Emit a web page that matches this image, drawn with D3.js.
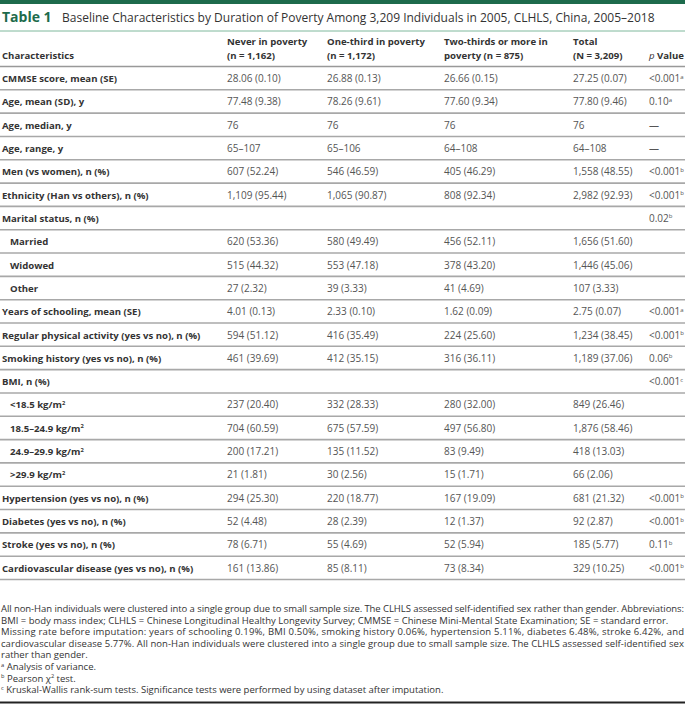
<!DOCTYPE html>
<html>
<head>
<meta charset="utf-8">
<script src="https://cdn.jsdelivr.net/npm/d3@7"></script>
<style>
    body { margin: 0; background: #fff; }
    svg text { font-family: "Open Sans", sans-serif; }
</style>
</head>
<body>
<svg id="tbl" width="685" height="704"></svg>
<script>
    var title_bold = "Table 1";
    var title_rest = "Baseline Characteristics by Duration of Poverty Among 3,209 Individuals in 2005, CLHLS, China, 2005\u20132018";

    var head_top = ["", "Never in poverty", "One-third in poverty", "Two-thirds or more in", "Total", ""];
    var head_bot = ["Characteristics", "(n = 1,162)", "(n = 1,172)", "poverty (n = 875)", "(N = 3,209)", "p Value"];

    var labels = [
        "CMMSE score, mean (SE)", "Age, mean (SD), y", "Age, median, y", "Age, range, y",
        "Men (vs women), n (%)", "Ethnicity (Han vs others), n (%)", "Marital status, n (%)",
        "Married", "Widowed", "Other",
        "Years of schooling, mean (SE)", "Regular physical activity (yes vs no), n (%)",
        "Smoking history (yes vs no), n (%)", "BMI, n (%)",
        "<18.5 kg/m^2", "18.5\u201324.9 kg/m^2", "24.9\u201329.9 kg/m^2", ">29.9 kg/m^2",
        "Hypertension (yes vs no), n (%)", "Diabetes (yes vs no), n (%)",
        "Stroke (yes vs no), n (%)", "Cardiovascular disease (yes vs no), n (%)"
    ];
    var indented = [0, 0, 0, 0, 0, 0, 0, 1, 1, 1, 0, 0, 0, 0, 1, 1, 1, 1, 0, 0, 0, 0];

    var never = ["28.06 (0.10)", "77.48 (9.38)", "76", "65\u2013107", "607 (52.24)", "1,109 (95.44)", "",
        "620 (53.36)", "515 (44.32)", "27 (2.32)", "4.01 (0.13)", "594 (51.12)", "461 (39.69)", "",
        "237 (20.40)", "704 (60.59)", "200 (17.21)", "21 (1.81)", "294 (25.30)", "52 (4.48)", "78 (6.71)", "161 (13.86)"];
    var one_third = ["26.88 (0.13)", "78.26 (9.61)", "76", "65\u2013106", "546 (46.59)", "1,065 (90.87)", "",
        "580 (49.49)", "553 (47.18)", "39 (3.33)", "2.33 (0.10)", "416 (35.49)", "412 (35.15)", "",
        "332 (28.33)", "675 (57.59)", "135 (11.52)", "30 (2.56)", "220 (18.77)", "28 (2.39)", "55 (4.69)", "85 (8.11)"];
    var two_thirds = ["26.66 (0.15)", "77.60 (9.34)", "76", "64\u2013108", "405 (46.29)", "808 (92.34)", "",
        "456 (52.11)", "378 (43.20)", "41 (4.69)", "1.62 (0.09)", "224 (25.60)", "316 (36.11)", "",
        "280 (32.00)", "497 (56.80)", "83 (9.49)", "15 (1.71)", "167 (19.09)", "12 (1.37)", "52 (5.94)", "73 (8.34)"];
    var total = ["27.25 (0.07)", "77.80 (9.46)", "76", "64\u2013108", "1,558 (48.55)", "2,982 (92.93)", "",
        "1,656 (51.60)", "1,446 (45.06)", "107 (3.33)", "2.75 (0.07)", "1,234 (38.45)", "1,189 (37.06)", "",
        "849 (26.46)", "1,876 (58.46)", "418 (13.03)", "66 (2.06)", "681 (21.32)", "92 (2.87)", "185 (5.77)", "329 (10.25)"];
    var p_values = ["<0.001^a", "0.10^a", "\u2014", "\u2014", "<0.001^b", "<0.001^b", "0.02^b",
        "", "", "", "<0.001^a", "<0.001^b", "0.06^b", "<0.001^c",
        "", "", "", "", "<0.001^b", "<0.001^b", "0.11^b", "<0.001^b"];

    var notes = [
        {t: "All non-Han individuals were clustered into a single group due to small sample size. The CLHLS assessed self-identified sex rather than gender. Abbreviations:", j: true},
        {t: "BMI = body mass index; CLHLS = Chinese Longitudinal Healthy Longevity Survey; CMMSE = Chinese Mini-Mental State Examination; SE = standard error.", j: false},
        {t: "Missing rate before imputation: years of schooling 0.19%, BMI 0.50%, smoking history 0.06%, hypertension 5.11%, diabetes 6.48%, stroke 6.42%, and", j: true},
        {t: "cardiovascular disease 5.77%. All non-Han individuals were clustered into a single group due to small sample size. The CLHLS assessed self-identified sex", j: true},
        {t: "rather than gender.", j: false},
        {t: "_a Analysis of variance.", j: false},
        {t: "_b Pearson \u03c7^2 test.", j: false},
        {t: "_c Kruskal-Wallis rank-sum tests. Significance tests were performed by using dataset after imputation.", j: false}
    ];

    var W = 685;
    var col_x = [2, 227, 327, 444, 573, 649];
    var green = "#1d6b4c";

    var svg = d3.select("#tbl");

    // "a^b" -> superscript b ; "_a" -> leading superscript a
    function rich(sel, str) {
        var parts = str.split(/(\^\S|_\S)/);
        var shift = 0;
        parts.forEach(function(p) {
            if (!p) return;
            if (p[0] === "^" || p[0] === "_") {
                sel.append("tspan").attr("dy", -3.5 - shift).style("font-size", "0.6em").text(p.slice(1));
                shift = -3.5;
            } else {
                sel.append("tspan").attr("dy", -shift).text(p);
                shift = 0;
            }
        });
    }

    svg.append("rect").attr("x", 0).attr("y", 0).attr("width", W).attr("height", 4).attr("fill", green);

    svg.append("text").attr("x", 2).attr("y", 22).style("font-size", "14px")
        .attr("fill", green).style("font-weight", "bold").text(title_bold);
    svg.append("text").attr("x", 62).attr("y", 22).style("font-size", "12px")
        .attr("fill", "#333").text(title_rest);

    svg.append("line").attr("x1", 0).attr("x2", W).attr("y1", 31).attr("y2", 31)
        .attr("stroke", "#7fb89c").attr("stroke-width", 1);

    // header
    var hdr = svg.append("g").style("font-size", "9.6px").style("font-weight", "bold").attr("fill", "#333");
    head_top.forEach(function(t, i) {
        if (t) hdr.append("text").attr("x", col_x[i]).attr("y", 45).text(t);
    });
    head_bot.forEach(function(t, i) {
        var el = hdr.append("text").attr("x", col_x[i]).attr("y", 58.5);
        if (i === 5) {
            el.append("tspan").style("font-style", "italic").style("font-weight", "normal").text("p");
            el.append("tspan").text(" Value");
        } else el.text(t);
    });

    var y = d3.scaleLinear().domain([0, labels.length]).range([66.5, 579.5]);

    var rows = svg.append("g").selectAll("g.row").data(labels).enter().append("g")
        .attr("class", "row")
        .attr("transform", function(d, i) { return "translate(0," + y(i) + ")"; });

    svg.append("line").attr("x1", 0).attr("x2", W).attr("y1", y(0)).attr("y2", y(0))
        .attr("stroke", "#999").attr("stroke-width", 1.6);

    rows.append("line").attr("x1", 0).attr("x2", W)
        .attr("y1", y(1) - y(0)).attr("y2", y(1) - y(0))
        .attr("stroke", "#a8a8a8").attr("stroke-width", 1.6);

    rows.append("text")
        .attr("x", function(d, i) { return col_x[0] + (indented[i] ? 8 : 0); })
        .attr("y", 15.5)
        .attr("fill", "#333")
        .style("font-size", "9.6px").style("font-weight", "bold")
        .each(function(d) { rich(d3.select(this), d); });

    [never, one_third, two_thirds, total, p_values].forEach(function(arr, c) {
        rows.append("text")
            .attr("x", col_x[c + 1])
            .attr("y", 15.5)
            .attr("fill", "#555")
            .style("font-size", "10px")
            .each(function(d, i) { rich(d3.select(this), arr[i]); });
    });

    // footnotes
    var fn = svg.append("g").attr("fill", "#333").style("font-size", "9.5px");
    notes.forEach(function(n, i) {
        var el = fn.append("text").attr("x", 1).attr("y", 612 + i * 11.6);
        rich(el, n.t);
        if (n.j) el.attr("textLength", 683).attr("lengthAdjust", "spacing");
    });

    svg.append("rect").attr("x", 0).attr("y", 701.5).attr("width", W).attr("height", 2).attr("fill", "#222");
</script>
</body>
</html>
